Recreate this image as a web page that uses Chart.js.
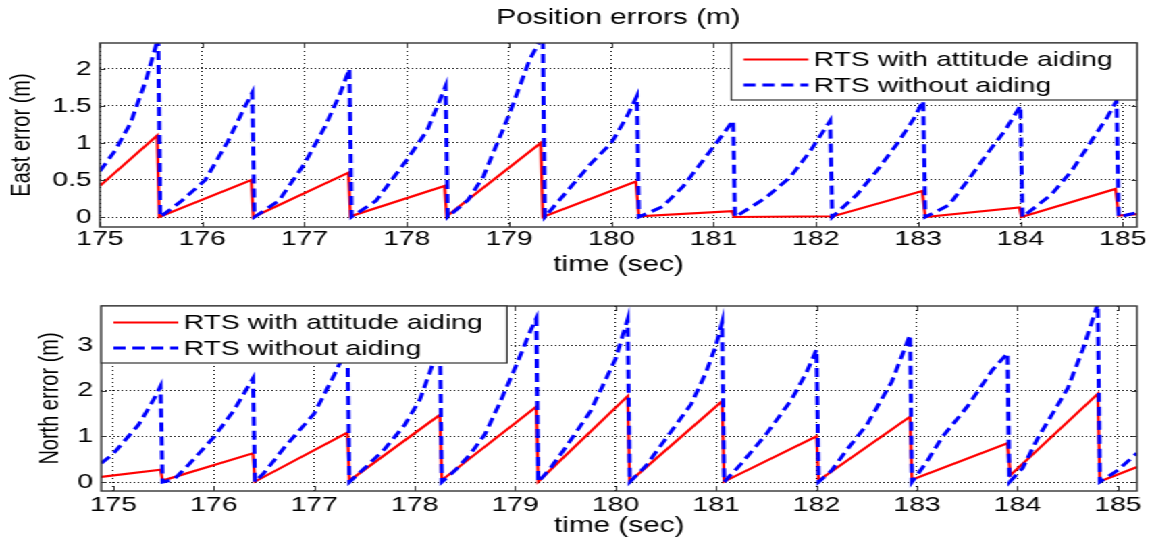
<!DOCTYPE html>
<html>
<head>
<meta charset="utf-8">
<script src="https://cdn.jsdelivr.net/npm/chart.js@4/dist/chart.umd.min.js"></script>
<style>
  html, body { margin: 0; padding: 0; background: #fff; overflow: hidden; }
  /* la figura original está estirada a lo ancho */
  #lienzo { position: absolute; left: 0; top: 0; width: 853px; height: 543px; transform: scaleX(1.35053); transform-origin: 0 0; }
  #lienzo canvas { position: absolute; left: 0; }
  #chart-east { top: 0; }
  #chart-north { top: 280px; }
</style>
</head>
<body>
<div id="lienzo">
  <canvas id="chart-east" width="853" height="280"></canvas>
  <canvas id="chart-north" width="853" height="263"></canvas>
</div>
<script>
/* Datos */
var timeTicks = [175, 176, 177, 178, 179, 180, 181, 182, 183, 184, 185];
var eastYTicks = [0, 0.5, 1, 1.5, 2];
var northYTicks = [0, 1, 2, 3];
var seriesLabels = ["RTS with attitude aiding", "RTS without aiding"];

// East - con ayuda de actitud (rojo)
var eastAidedTime = [175.00, 175.56, 175.58, 176.48, 176.50, 177.43, 177.45, 178.37, 178.39, 179.31, 179.33,
  180.24, 180.27, 181.18, 181.20, 182.17, 183.04, 183.07, 183.99, 184.01, 184.93, 184.96, 185.14];
var eastAided = [0.42, 1.10, 0.00, 0.50, 0.00, 0.60, 0.01, 0.42, 0.01, 1.00, 0.00,
  0.48, 0.01, 0.08, 0.00, 0.01, 0.35, 0.00, 0.13, 0.00, 0.38, 0.02, 0.04];

// East - sin ayuda (azul)
var eastFreeTime = [
  175.00, 175.15, 175.30, 175.45, 175.57, 175.59,
  175.80, 176.03, 176.25, 176.40, 176.49, 176.51,
  176.75, 177.00, 177.20, 177.35, 177.44, 177.46,
  177.70, 178.00, 178.20, 178.30, 178.38, 178.40,
  178.60, 178.75, 179.00, 179.20, 179.33, 179.35,
  179.60, 179.80, 180.00, 180.15, 180.25, 180.27,
  180.50, 180.70, 180.90, 181.05, 181.19, 181.21,
  181.50, 181.75, 181.95, 182.14, 182.16,
  182.40, 182.60, 182.80, 182.95, 183.05, 183.07,
  183.30, 183.50, 183.70, 183.85, 184.00, 184.02,
  184.30, 184.50, 184.70, 184.85, 184.94, 184.96,
  185.05, 185.14];
var eastFree = [
  0.62, 0.90, 1.27, 1.85, 2.42, 0.00,
  0.22, 0.50, 1.02, 1.44, 1.68, 0.00,
  0.22, 0.72, 1.22, 1.67, 2.00, 0.00,
  0.22, 0.77, 1.17, 1.50, 1.77, 0.00,
  0.23, 0.55, 1.38, 2.12, 2.45, 0.00,
  0.40, 0.72, 1.00, 1.35, 1.63, 0.00,
  0.14, 0.41, 0.77, 1.04, 1.30, 0.00,
  0.25, 0.54, 0.90, 1.30, 0.00,
  0.30, 0.63, 1.00, 1.31, 1.57, 0.00,
  0.16, 0.52, 0.90, 1.17, 1.50, 0.00,
  0.30, 0.62, 1.04, 1.35, 1.57, 0.00,
  0.03, 0.06];

// North - con ayuda de actitud (rojo)
var northAidedTime = [174.88, 175.47, 175.49, 176.39, 176.41, 177.33, 177.35, 178.25, 178.27, 179.21, 179.23,
  180.12, 180.14, 181.06, 181.08, 182.00, 182.02, 182.93, 182.95, 183.90, 183.93, 184.80, 184.82, 185.19];
var northAided = [0.11, 0.27, 0.03, 0.63, 0.01, 1.08, 0.03, 1.47, 0.04, 1.65, 0.01,
  1.88, 0.01, 1.77, 0.01, 1.00, 0.03, 1.43, 0.05, 0.85, 0.15, 1.93, 0.01, 0.33];

// North - sin ayuda (azul)
var northFreeTime = [
  174.88, 175.00, 175.25, 175.40, 175.47, 175.49,
  175.60, 175.75, 176.00, 176.20, 176.39, 176.41,
  176.50, 176.70, 177.00, 177.20, 177.33, 177.35,
  177.50, 177.70, 177.90, 178.05, 178.15, 178.25, 178.27,
  178.40, 178.55, 178.70, 178.85, 179.00, 179.15, 179.21, 179.23,
  179.35, 179.50, 179.75, 180.00, 180.12, 180.14,
  180.30, 180.50, 180.75, 180.90, 181.00, 181.06, 181.08,
  181.25, 181.50, 181.75, 181.90, 182.00, 182.02,
  182.15, 182.30, 182.50, 182.75, 182.93, 182.95,
  183.10, 183.25, 183.50, 183.75, 183.90, 183.92,
  184.05, 184.20, 184.35, 184.50, 184.65, 184.80, 184.82,
  185.00, 185.19];
var northFree = [
  0.41, 0.62, 1.25, 1.80, 2.10, 0.00,
  0.05, 0.38, 0.98, 1.57, 2.27, 0.00,
  0.20, 0.75, 1.50, 2.35, 2.95, 0.00,
  0.30, 0.72, 1.25, 1.80, 2.40, 3.05, 0.00,
  0.25, 0.60, 1.05, 1.75, 2.50, 3.30, 3.58, 0.00,
  0.30, 0.75, 1.55, 2.70, 3.56, 0.00,
  0.35, 0.95, 1.70, 2.40, 3.00, 3.50, 0.00,
  0.40, 1.05, 1.80, 2.40, 2.90, 0.00,
  0.25, 0.70, 1.25, 2.20, 3.22, 0.00,
  0.45, 0.98, 1.65, 2.45, 2.82, 0.00,
  0.30, 0.95, 1.50, 2.05, 2.90, 3.90, 0.00,
  0.26, 0.63];

Chart.defaults.font.family = "'Liberation Sans', Arial, Helvetica, sans-serif";
Chart.defaults.color = "#000";

function puntos(t, v) {
  return t.map(function(x, i) { return {x: x, y: v[i]}; });
}

function series(tRojo, vRojo, tAzul, vAzul) {
  return [{
    label: seriesLabels[0],
    data: puntos(tRojo, vRojo),
    borderColor: "#ff0000",
    borderWidth: 2.2,
    order: 1
  }, {
    label: seriesLabels[1],
    data: puntos(tAzul, vAzul),
    borderColor: "#0000ff",
    borderWidth: 3,
    borderDash: [9, 5],
    order: 0
  }];
}

/* Marco tipo MATLAB + leyenda dentro del eje */
var marcoYLeyenda = {
  id: "marcoYLeyenda",
  afterDatasetsDraw: function(chart, args, opts) {
    var c = chart.ctx, a = chart.chartArea;
    var sx = chart.scales.x, sy = chart.scales.y;
    c.save();
    c.setLineDash([]);
    c.strokeStyle = "#333";
    c.lineWidth = 1;
    c.beginPath();
    sx.ticks.forEach(function(t) {
      var px = Math.round(sx.getPixelForValue(t.value)) + 0.5;
      c.moveTo(px, a.bottom); c.lineTo(px, a.bottom - 5);
      c.moveTo(px, a.top); c.lineTo(px, a.top + 5);
    });
    sy.ticks.forEach(function(t) {
      var py = Math.round(sy.getPixelForValue(t.value)) + 0.5;
      c.moveTo(a.left, py); c.lineTo(a.left + 4, py);
      c.moveTo(a.right, py); c.lineTo(a.right - 4, py);
    });
    c.stroke();
    c.lineWidth = 1.4;
    c.strokeRect(a.left, a.top, a.right - a.left, a.bottom - a.top);

    // leyenda
    c.font = "21px 'Liberation Sans', Arial, sans-serif";
    var anchoTexto = 0;
    chart.data.datasets.forEach(function(d) {
      anchoTexto = Math.max(anchoTexto, c.measureText(d.label).width);
    });
    var w = 61 + anchoTexto + 18, h = 57;
    var x0 = opts.lado === "right" ? a.right - w : a.left;
    var y0 = a.top;
    c.fillStyle = "#fff";
    c.fillRect(x0, y0, w, h);
    c.strokeStyle = "#333";
    c.lineWidth = 1.2;
    c.strokeRect(x0, y0, w, h);
    var filas = [16.5, 42];
    chart.data.datasets.forEach(function(d, i) {
      var yy = y0 + filas[i];
      c.strokeStyle = d.borderColor;
      c.lineWidth = d.borderWidth;
      c.setLineDash(d.borderDash || []);
      c.beginPath();
      c.moveTo(x0 + 9, yy);
      c.lineTo(x0 + 57, yy);
      c.stroke();
      c.setLineDash([]);
      c.fillStyle = "#000";
      c.textBaseline = "middle";
      c.textAlign = "left";
      c.fillText(d.label, x0 + 61, yy + 1);
    });
    c.restore();
  }
};

function ejes(xMin, xMax, yMin, yMax, yTicks, yTitulo, yPadTitulo, anchoY, altoX, xPadTicks, xPadTitulo) {
  return {
    x: {
      type: "linear",
      min: xMin,
      max: xMax,
      afterBuildTicks: function(s) { s.ticks = timeTicks.map(function(v) { return {value: v}; }); },
      afterFit: function(s) { s.height = altoX; },
      ticks: { font: {size: 21}, color: "#000", padding: xPadTicks, maxRotation: 0, autoSkip: false,
        callback: function(v) { return String(v); } },
      grid: { color: "#000", lineWidth: 1, drawTicks: false },
      border: { display: false, dash: [1, 3] },
      title: { display: true, text: "time (sec)", font: {size: 22}, color: "#000",
        padding: {top: 0, bottom: xPadTitulo} }
    },
    y: {
      min: yMin,
      max: yMax,
      afterBuildTicks: function(s) { s.ticks = yTicks.map(function(v) { return {value: v}; }); },
      afterFit: function(s) { s.width = anchoY; },
      ticks: { font: {size: 21}, color: "#000", padding: 6,
        callback: function(v) { return String(v); } },
      grid: { color: "#000", lineWidth: 1, drawTicks: false },
      border: { display: false, dash: [1, 2] },
      title: { display: true, text: yTitulo, font: {size: 20}, color: "#000",
        padding: {top: yPadTitulo, bottom: 0} }
    }
  };
}

//------------------------------------------------------------------------------------------------------------
/* Error Este */
var ctx = document.getElementById("chart-east").getContext("2d");
new Chart(ctx, {
  type: "line",
  data: { datasets: series(eastAidedTime, eastAided, eastFreeTime, eastFree) },
  options: {
    responsive: false,
    animation: false,
    events: [],
    elements: { line: { tension: 0 }, point: { radius: 0 } },
    layout: { padding: {left: 0, right: 11.1, top: 0, bottom: 0} },
    scales: ejes(175, 185.14, -0.135, 2.35, eastYTicks, "East error (m)", 4.7, 74, 53, 0, 1.5),
    plugins: {
      legend: { display: false },
      tooltip: { enabled: false },
      title: {
        display: true,
        text: "Position errors (m)",
        fullSize: false,
        color: "#000",
        font: {size: 22, weight: "normal"},
        padding: {top: 4.8, bottom: 11.8}
      },
      marcoYLeyenda: { lado: "right" }
    }
  },
  plugins: [marcoYLeyenda]
});

//------------------------------------------------------------------------------------------------------------
/* Error Norte */
var ctx2 = document.getElementById("chart-north").getContext("2d");
new Chart(ctx2, {
  type: "line",
  data: { datasets: series(northAidedTime, northAided, northFreeTime, northFree) },
  options: {
    responsive: false,
    animation: false,
    events: [],
    elements: { line: { tension: 0 }, point: { radius: 0 } },
    layout: { padding: {left: 0, right: 11.1, top: 26, bottom: 0} },
    scales: ejes(174.88, 185.19, -0.197, 3.854, northYTicks, "North error (m)", 25, 75, 52, 2, 3.8),
    plugins: {
      legend: { display: false },
      tooltip: { enabled: false },
      marcoYLeyenda: { lado: "left" }
    }
  },
  plugins: [marcoYLeyenda]
});
</script>
</body>
</html>
